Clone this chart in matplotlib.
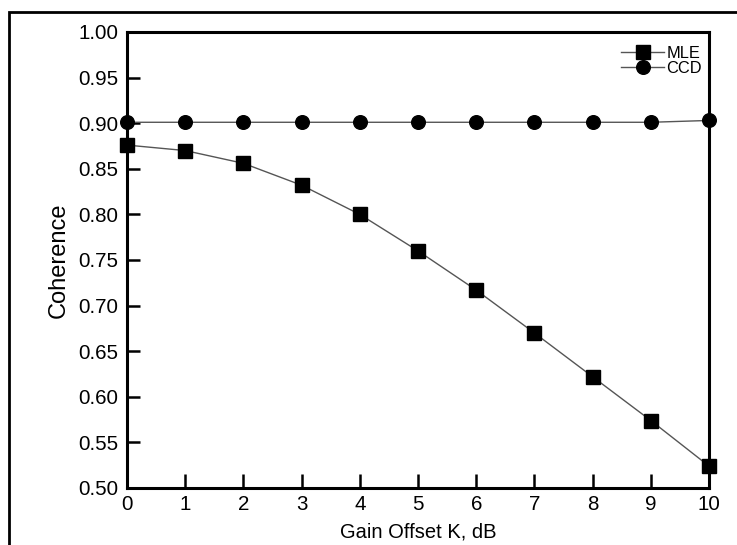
import matplotlib.pyplot as plt
from matplotlib.patches import Rectangle

plt.rcParams['font.family'] = ['Liberation Sans', 'DejaVu Sans']

# Gain offset (dB) and coherence estimates
gain_db = [0, 1, 2, 3, 4, 5, 6, 7, 8, 9, 10]
mle = [0.876, 0.870, 0.856, 0.832, 0.800, 0.760, 0.717, 0.670, 0.622, 0.574, 0.524]
ccd = [0.901, 0.901, 0.901, 0.901, 0.901, 0.901, 0.901, 0.901, 0.901, 0.901, 0.903]

y_ticks = [0.50, 0.55, 0.60, 0.65, 0.70, 0.75, 0.80, 0.85, 0.90, 0.95, 1.00]


def main():
    fig = plt.figure(figsize=(7.37, 5.45), dpi=100)
    ax = fig.add_axes([0.1723, 0.1046, 0.7897, 0.8367])

    # outer frame around the figure
    fig.patches.append(Rectangle((8.5 / 737, -0.1), 1.2, 0.1 + (545 - 11.5) / 545,
                                 transform=fig.transFigure, fill=False,
                                 edgecolor='black', linewidth=2.0, zorder=0))

    ax.plot(gain_db, mle, color='#555555', linewidth=1.0, marker='s',
            markersize=9.5, markerfacecolor='black', markeredgecolor='black',
            label='MLE', clip_on=False, zorder=3)
    ax.plot(gain_db, ccd, color='#555555', linewidth=1.0, marker='o',
            markersize=9.8, markerfacecolor='black', markeredgecolor='black',
            label='CCD', clip_on=False, zorder=3)

    ax.set_xlim(0, 10)
    ax.set_ylim(0.50, 1.00)
    ax.set_xticks(gain_db)
    ax.set_yticks(y_ticks)
    ax.set_yticklabels([f'{v:.2f}' for v in y_ticks])

    for s in ax.spines.values():
        s.set_linewidth(2.2)
    ax.tick_params(axis='both', direction='in', labelsize=14.8, width=1.8)
    ax.tick_params(axis='x', length=10, pad=5)
    ax.tick_params(axis='y', length=9, pad=6)

    ax.set_xlabel('Gain Offset K, dB', fontsize=14.5, labelpad=6)
    ax.set_ylabel('Coherence', fontsize=17, labelpad=6)

    ax.legend(loc='upper right', frameon=False, fontsize=11.8,
              handlelength=2.6, handletextpad=0.15, labelspacing=0.0,
              borderaxespad=0.45, markerscale=1.0,
              bbox_to_anchor=(1.012, 1.0))

    fig.savefig('out.png', dpi=100)


if __name__ == '__main__':
    main()
